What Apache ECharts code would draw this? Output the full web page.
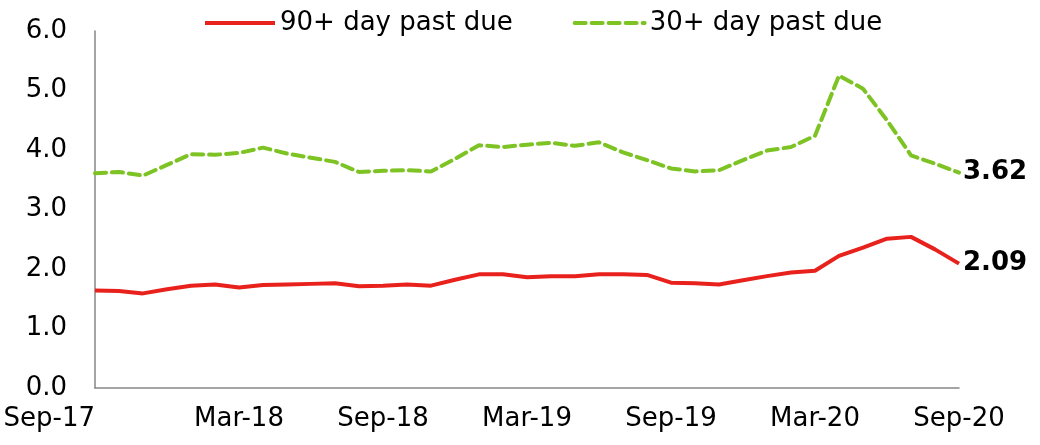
<!DOCTYPE html>
<html>
<head>
<meta charset="utf-8">
<script src="https://cdn.jsdelivr.net/npm/echarts@6/dist/echarts.min.js"></script>
<style>
  html, body { margin: 0; padding: 0; background: #fff; }
  #chart { width: 1040px; height: 445px; }
</style>
</head>
<body>
<div id="chart"></div>
<script>
const months = [
  "Sep-17", "Oct-17", "Nov-17", "Dec-17", "Jan-18", "Feb-18", "Mar-18", "Apr-18", "May-18", "Jun-18",
  "Jul-18", "Aug-18", "Sep-18", "Oct-18", "Nov-18", "Dec-18", "Jan-19", "Feb-19", "Mar-19", "Apr-19",
  "May-19", "Jun-19", "Jul-19", "Aug-19", "Sep-19", "Oct-19", "Nov-19", "Dec-19", "Jan-20", "Feb-20",
  "Mar-20", "Apr-20", "May-20", "Jun-20", "Jul-20", "Aug-20", "Sep-20"
];
const past90 = [
  1.64, 1.63, 1.59, 1.66, 1.72, 1.74, 1.69, 1.73, 1.74, 1.75,
  1.76, 1.71, 1.72, 1.74, 1.72, 1.82, 1.91, 1.91, 1.86, 1.88,
  1.88, 1.91, 1.91, 1.90, 1.77, 1.76, 1.74, 1.81, 1.88, 1.94,
  1.97, 2.22, 2.36, 2.51, 2.54, 2.33, 2.09
];
const past30 = [
  3.61, 3.63, 3.57, 3.75, 3.93, 3.92, 3.95, 4.04, 3.94, 3.87,
  3.80, 3.63, 3.65, 3.66, 3.64, 3.85, 4.08, 4.05, 4.09, 4.12,
  4.07, 4.13, 3.96, 3.83, 3.69, 3.64, 3.66, 3.83, 3.99, 4.05,
  4.24, 5.25, 5.03, 4.50, 3.91, 3.77, 3.62
];

(() => {
  let myChart = echarts.init(document.querySelector("#chart"));
  const font = "DejaVu Sans, Liberation Sans, Arial, sans-serif";
  const endLabel = {
    show: true,
    distance: 4,
    color: "#000",
    fontWeight: "bold",
    fontSize: 26,
    fontFamily: font,
    formatter: (p) => p.value.toFixed(2),
  };
  let option = {
    animation: false,
    textStyle: { fontFamily: font },
    legend: {
      left: 198,
      top: 5,
      itemWidth: 70,
      itemHeight: 14,
      itemGap: 60,
      itemStyle: { opacity: 0 },
      lineStyle: { width: 4 },
      textStyle: {
        color: "#000",
        fontSize: 26,
        fontFamily: font,
      },
    },
    grid: {
      left: 95,
      right: 81,
      top: 31,
      bottom: 57,
    },
    xAxis: {
      type: "category",
      boundaryGap: false,
      data: months,
      axisLine: {
        lineStyle: { color: "#868686", width: 1.5 },
      },
      axisTick: { show: false },
      axisLabel: {
        interval: 5,
        color: "#000",
        fontSize: 26,
        fontFamily: font,
        margin: 18,
        alignMinLabel: "right",
      },
    },
    yAxis: {
      type: "value",
      min: 0,
      max: 6,
      interval: 1,
      axisLine: {
        show: true,
        lineStyle: { color: "#868686", width: 1.5 },
      },
      axisTick: { show: false },
      splitLine: { show: false },
      axisLabel: {
        color: "#000",
        fontSize: 26,
        fontFamily: font,
        margin: 28,
        formatter: (v) => v.toFixed(1),
      },
    },
    series: [
      {
        name: "90+ day past due",
        type: "line",
        data: past90,
        symbol: "none",
        lineStyle: { color: "#e8211c", width: 4 },
        itemStyle: { color: "#e8211c" },
        endLabel: endLabel,
      },
      {
        name: "30+ day past due",
        type: "line",
        data: past30,
        symbol: "none",
        lineStyle: { color: "#7dc324", width: 4, type: [11, 6], cap: "round" },
        itemStyle: { color: "#7dc324" },
        endLabel: endLabel,
      },
    ],
  };
  myChart.setOption(option);
  window.addEventListener("resize", () => {
    myChart.resize();
  });
})();
</script>
</body>
</html>
